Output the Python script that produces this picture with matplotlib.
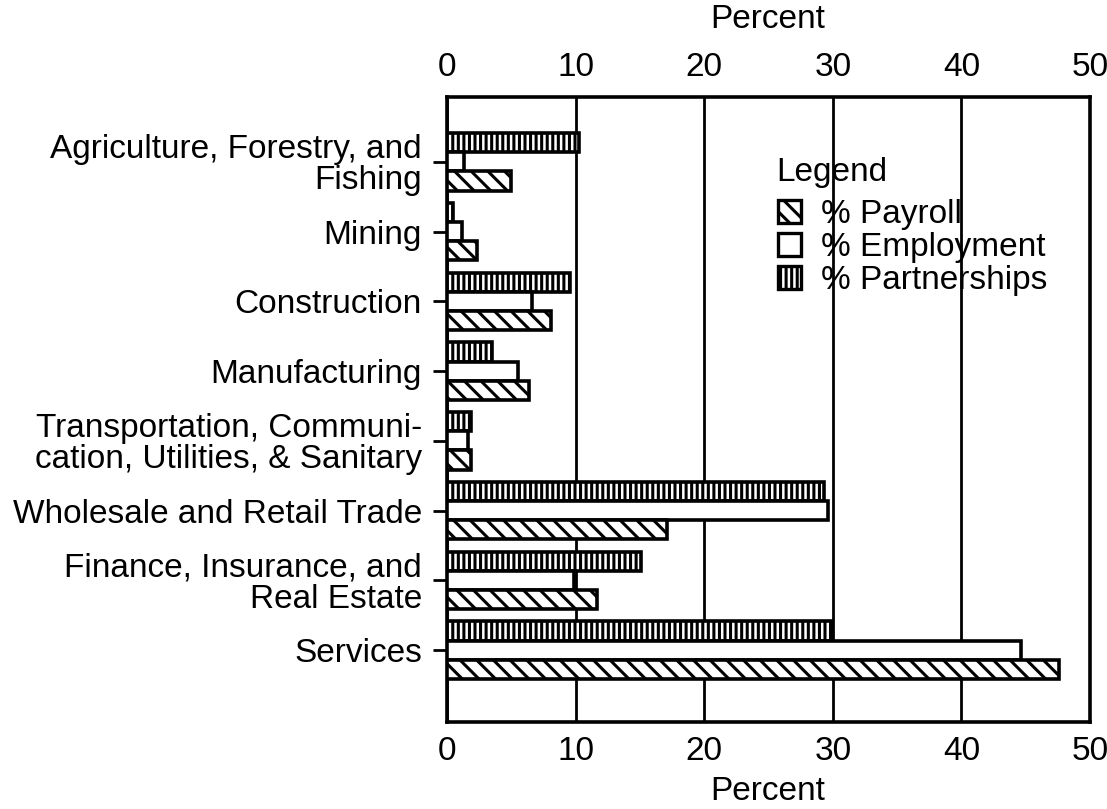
import matplotlib
matplotlib.use("Agg")
import matplotlib.pyplot as plt
from matplotlib.patches import Patch
import numpy as np

categories = [
    "Agriculture, Forestry, and\nFishing",
    "Mining",
    "Construction",
    "Manufacturing",
    "Transportation, Communi-\ncation, Utilities, & Sanitary",
    "Wholesale and Retail Trade",
    "Finance, Insurance, and\nReal Estate",
    "Services",
]
partnerships = [10.3, 0.5, 9.6, 3.5, 1.9, 29.3, 15.1, 29.9]
employment = [1.3, 1.2, 6.6, 5.5, 1.6, 29.6, 9.9, 44.6]
payroll = [5.0, 2.3, 8.1, 6.4, 1.9, 17.1, 11.7, 47.6]
xticks = [0, 10, 20, 30, 40, 50]

plt.rcParams['font.family'] = ['Liberation Sans', 'DejaVu Sans']
plt.rcParams['hatch.linewidth'] = 2.2
FS = 24

fig = plt.figure(figsize=(11.07, 8.09), dpi=100)
W, H = 1107, 809
L, R, T, B = 447, 1090, 97, 722
ax = fig.add_axes([L / W, 1 - B / H, (R - L) / W, (B - T) / H])

y = np.arange(len(categories))
h = 0.275
ax.barh(y - h, partnerships, height=h, color='white', edgecolor='black',
        linewidth=2.6, hatch='|||', zorder=3)
ax.barh(y, employment, height=h, color='white', edgecolor='black',
        linewidth=2.6, zorder=3)
ax.barh(y + h, payroll, height=h, color='white', edgecolor='black',
        linewidth=2.6, hatch='\\\\', zorder=3)

ax.set_xlim(0, 50)
ax.set_ylim(len(categories) - 1 + 1.03, -0.93)
ax.set_xticks(xticks)
ax.set_xticklabels([str(t) for t in xticks])
ax.tick_params(axis='x', which='both', length=0, labelsize=FS, pad=10,
               top=True, labeltop=True, bottom=True, labelbottom=True)
ax.set_yticks(y)
ax.set_yticklabels(categories, fontsize=FS, linespacing=1.0)
ax.tick_params(axis='y', length=10, width=2.0, pad=8, color='black')
for s in ax.spines.values():
    s.set_linewidth(2.6)
ax.grid(axis='x', color='black', linewidth=2.0, zorder=1)
ax.set_axisbelow(True)

fig.text(768 / W, 1 - 20 / H, "Percent", ha='center', va='center', fontsize=FS)
fig.text(768 / W, 1 - 792 / H, "Percent", ha='center', va='center', fontsize=FS)

fig.text(776 / W, 1 - 172 / H, "Legend", ha='left', va='center', fontsize=FS)
handles = [
    Patch(facecolor='white', edgecolor='black', linewidth=2.4, hatch='\\\\'),
    Patch(facecolor='white', edgecolor='black', linewidth=2.4),
    Patch(facecolor='white', edgecolor='black', linewidth=2.4, hatch='|||'),
]
labels = ["% Payroll", "% Employment", "% Partnerships"]
leg = ax.legend(handles, labels, loc='upper left',
                bbox_to_anchor=(778 / W, 1 - 199 / H), bbox_transform=fig.transFigure,
                fontsize=FS, frameon=False,
                handlelength=0.7, handleheight=0.7, handletextpad=0.6,
                labelspacing=0.06, borderaxespad=0, borderpad=0)

fig.savefig("out.png", dpi=100)
